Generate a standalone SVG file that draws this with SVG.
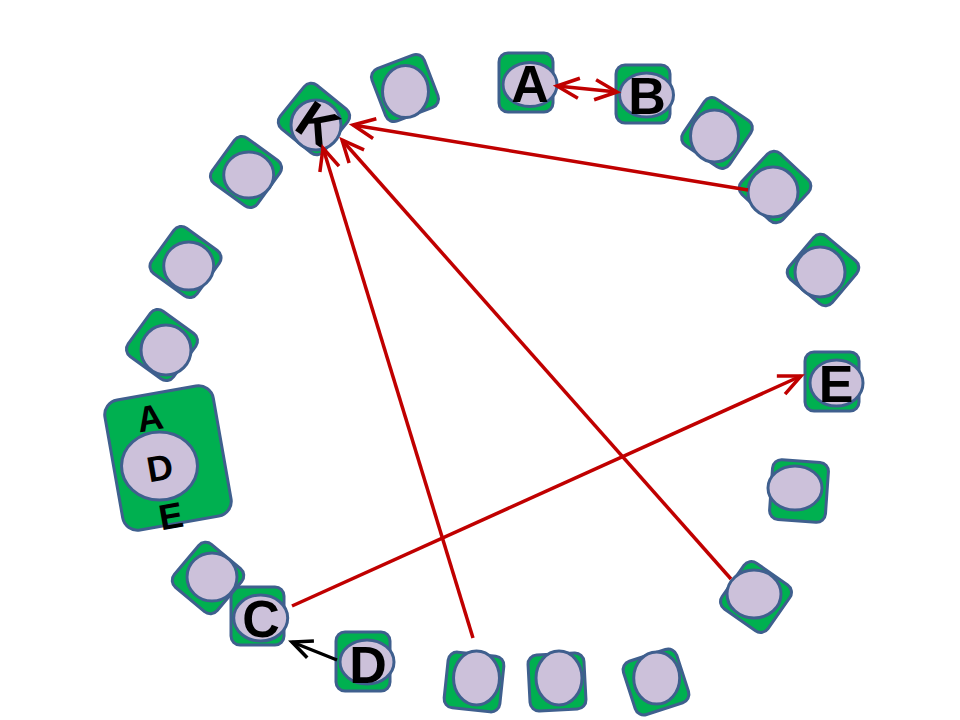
<svg xmlns="http://www.w3.org/2000/svg" width="960" height="720" viewBox="0 0 960 720">
<style>
.sq{fill:#00B050;stroke:#3F5F8E;stroke-width:3}
.el{fill:#CCC1DA;stroke:#3F5F8E;stroke-width:3}
.big{font-family:"Liberation Sans",Arial,sans-serif;font-weight:bold;font-size:52px;fill:#000;text-anchor:middle;dominant-baseline:central}
.sm{font-family:"Liberation Sans",Arial,sans-serif;font-weight:bold;font-size:36px;fill:#000;text-anchor:middle;dominant-baseline:central}
.red{stroke:#C00000;stroke-width:3.5;fill:none}
.blk{stroke:#000;stroke-width:3.5;fill:none}
</style>
<defs>
<marker id="ar" markerUnits="userSpaceOnUse" viewBox="-26 -13 30 26" refX="0" refY="0" markerWidth="30" markerHeight="26" orient="auto-start-reverse">
<path d="M-22,-10 L0,0 L-22,10" fill="none" stroke="#C00000" stroke-width="3.5"/>
</marker>
<marker id="ab" markerUnits="userSpaceOnUse" viewBox="-26 -13 30 26" refX="0" refY="0" markerWidth="30" markerHeight="26" orient="auto">
<path d="M-20,-9 L0,0 L-20,9" fill="none" stroke="#000" stroke-width="3.5"/>
</marker>
</defs>
<g id="n1"><rect class="sq" x="-28" y="-28" width="56" height="56" rx="9" transform="translate(314,119) rotate(39)"/><ellipse class="el" cx="316" cy="125" rx="25" ry="25"/><text class="big" transform="translate(318,124) rotate(34)">K</text></g>
<g id="n2"><rect class="sq" x="-28" y="-28" width="56" height="56" rx="9" transform="translate(405,88) rotate(-21)"/><ellipse class="el" cx="405.5" cy="91.5" rx="23" ry="26"/></g>
<g id="n3"><rect class="sq" x="499" y="53" width="54" height="59" rx="9"/><ellipse class="el" cx="530" cy="84.5" rx="27" ry="22"/><text class="big" x="530" y="84">A</text></g>
<g id="n4"><rect class="sq" x="616" y="65" width="54" height="58" rx="9"/><ellipse class="el" cx="646.5" cy="95" rx="27" ry="22"/><text class="big" x="647" y="96">B</text></g>
<g id="n5"><rect class="sq" x="-28" y="-28" width="56" height="56" rx="9" transform="translate(717,133) rotate(34)"/><ellipse class="el" cx="714.5" cy="136" rx="24" ry="26"/></g>
<g id="n6"><rect class="sq" x="-28" y="-28" width="56" height="56" rx="9" transform="translate(775,187) rotate(43)"/><ellipse class="el" cx="773" cy="192" rx="25" ry="25"/></g>
<g id="n7"><rect class="sq" x="-28" y="-28" width="56" height="56" rx="9" transform="translate(823,270) rotate(40)"/><ellipse class="el" cx="820" cy="272" rx="25" ry="25"/></g>
<g id="n8"><rect class="sq" x="805" y="352" width="54" height="59" rx="9"/><ellipse class="el" cx="836.5" cy="383" rx="26.5" ry="23"/><text class="big" x="836" y="384">E</text></g>
<g id="n9"><rect class="sq" x="-28" y="-30" width="56" height="60" rx="9" transform="translate(799,491) rotate(4)"/><ellipse class="el" cx="795" cy="488" rx="27" ry="22"/></g>
<g id="n10"><rect class="sq" x="-28" y="-28" width="56" height="56" rx="9" transform="translate(756,597) rotate(35)"/><ellipse class="el" cx="754" cy="594" rx="27" ry="24"/></g>
<g id="n11"><rect class="sq" x="-28" y="-28" width="56" height="56" rx="9" transform="translate(656,682) rotate(-18)"/><ellipse class="el" cx="656.7" cy="678" rx="23" ry="26"/></g>
<g id="n12"><rect class="sq" x="-28" y="-28" width="56" height="56" rx="9" transform="translate(557,682) rotate(-3)"/><ellipse class="el" cx="559" cy="678" rx="23" ry="27"/></g>
<g id="n13"><rect class="sq" x="-28" y="-28" width="56" height="56" rx="9" transform="translate(474,682) rotate(6)"/><ellipse class="el" cx="476.5" cy="678" rx="23" ry="27"/></g>
<g id="n14"><rect class="sq" x="336" y="632" width="54" height="59" rx="9"/><ellipse class="el" cx="367" cy="662" rx="27" ry="22"/><text class="big" x="368" y="665">D</text></g>
<g id="n15"><rect class="sq" x="231" y="587" width="53" height="58" rx="9"/><ellipse class="el" cx="260.7" cy="618" rx="27" ry="23"/><text class="big" x="261" y="619">C</text></g>
<g id="n16"><rect class="sq" x="-28" y="-28" width="56" height="56" rx="9" transform="translate(208,578) rotate(40)"/><ellipse class="el" cx="212" cy="577" rx="25" ry="24"/></g>
<g id="n17"><rect class="sq" x="-55" y="-66" width="110" height="132" rx="15" transform="translate(168,458) rotate(-10)"/><ellipse class="el" cx="159.5" cy="466" rx="38" ry="34"/><text class="sm" transform="translate(150,418) rotate(-10)">A</text><text class="sm" transform="translate(160,468) rotate(-10)">D</text><text class="sm" transform="translate(171,516) rotate(-10)">E</text></g>
<g id="n18"><rect class="sq" x="-28" y="-28" width="56" height="56" rx="9" transform="translate(162,345) rotate(36)"/><ellipse class="el" cx="166" cy="350" rx="25" ry="25"/></g>
<g id="n19"><rect class="sq" x="-28" y="-28" width="56" height="56" rx="9" transform="translate(185.5,262) rotate(36)"/><ellipse class="el" cx="188.7" cy="266" rx="25" ry="24"/></g>
<g id="n20"><rect class="sq" x="-28" y="-28" width="56" height="56" rx="9" transform="translate(246,172) rotate(36)"/><ellipse class="el" cx="248.7" cy="175" rx="25" ry="23"/></g>
<g id="connectors">
<line class="red" x1="557" y1="86" x2="617" y2="92" marker-start="url(#ar)" marker-end="url(#ar)"/>
<line class="red" x1="748" y1="190" x2="353" y2="125" marker-end="url(#ar)"/>
<line class="red" x1="473" y1="638" x2="323" y2="148" marker-end="url(#ar)"/>
<line class="red" x1="731" y1="579" x2="342" y2="140" marker-end="url(#ar)"/>
<line class="red" x1="292" y1="606" x2="801" y2="376" marker-end="url(#ar)"/>
<line class="blk" x1="337" y1="660" x2="292" y2="642" marker-end="url(#ab)"/>
</g>
</svg>
